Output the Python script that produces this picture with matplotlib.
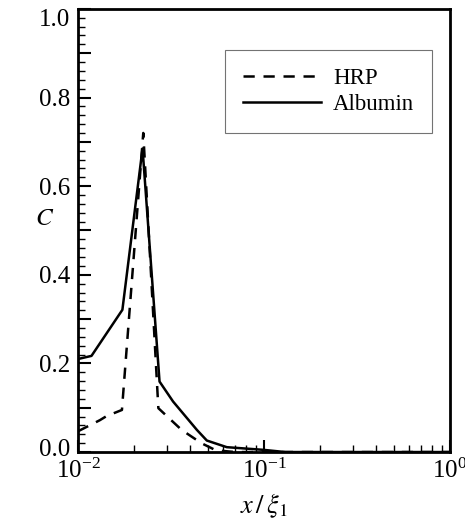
import matplotlib

matplotlib.use("Agg")
import matplotlib.pyplot as plt
from matplotlib.ticker import FuncFormatter, LogLocator, MultipleLocator
from matplotlib.transforms import ScaledTranslation

plt.rcParams["font.family"] = ["Liberation Serif", "DejaVu Serif"]
plt.rcParams["mathtext.fontset"] = "stix"

# values
hrp_x = [0.010, 0.0131, 0.0142, 0.0172, 0.0224, 0.0270, 0.0360, 0.0460, 0.0550, 0.070, 1.0]
hrp_c = [0.047, 0.072, 0.081, 0.095, 0.720, 0.099, 0.050, 0.020, 0.004, 0.0, 0.0]

alb_x = [0.010, 0.0118, 0.0173, 0.0222, 0.0274, 0.0324, 0.0435, 0.0492, 0.063, 0.099, 0.130, 1.0]
alb_c = [0.210, 0.217, 0.321, 0.685, 0.159, 0.114, 0.050, 0.026, 0.011, 0.005, 0.0, 0.0]

fig = plt.figure(figsize=(4.65, 5.22), dpi=100)
ax = fig.add_axes([0.168, 0.134, 0.800, 0.849])

ax.plot(hrp_x, hrp_c, color="black", lw=1.8, ls=(0, (4.5, 3.5)), label="HRP")
ax.plot(alb_x, alb_c, color="black", lw=1.8, label="Albumin")

ax.set_xscale("log")
ax.set_xlim(1e-2, 1e0)
ax.set_ylim(0.0, 1.0)

ax.xaxis.set_major_locator(LogLocator(base=10))
ax.xaxis.set_minor_locator(LogLocator(base=10, subs=range(2, 10)))
ax.yaxis.set_major_locator(MultipleLocator(0.1))
ax.yaxis.set_minor_locator(MultipleLocator(0.02))
ax.yaxis.set_major_formatter(
    FuncFormatter(lambda v, pos: f"{v:.1f}" if round(v * 10) % 2 == 0 else "")
)

ax.tick_params(which="both", direction="in", top=False, right=False, labelsize=18, width=1.5)
ax.tick_params(which="major", length=9)
ax.tick_params(which="minor", length=5, width=1.0)
ax.tick_params(axis="x", pad=5)
ax.tick_params(axis="y", pad=6)
for sp in ax.spines.values():
    sp.set_linewidth(2.0)

# the end labels on the y axis sit a little inside the axis in the original
fig.canvas.draw()
for lab in ax.get_yticklabels():
    if lab.get_text() == "0.0":
        lab.set_transform(lab.get_transform() + ScaledTranslation(0, 5 / 100, fig.dpi_scale_trans))
    elif lab.get_text() == "1.0":
        lab.set_transform(lab.get_transform() + ScaledTranslation(0, -9 / 100, fig.dpi_scale_trans))

ax.set_xlabel(r"$x\,/\,\xi_1$", fontsize=19)
ax.xaxis.set_label_coords(0.5, -0.088)
ax.set_ylabel(r"$C$", fontsize=18, rotation=0)
ax.yaxis.set_label_coords(-0.09, 0.50)

leg = ax.legend(
    loc="upper right",
    bbox_to_anchor=(0.952, 0.907),
    borderaxespad=0,
    fontsize=16.5,
    handlelength=3.4,
    handletextpad=0.5,
    borderpad=0.8,
    labelspacing=0.2,
    fancybox=False,
    framealpha=1,
)
leg.get_frame().set_edgecolor("0.45")
leg.get_frame().set_linewidth(0.8)

fig.savefig("out.png", dpi=100)
